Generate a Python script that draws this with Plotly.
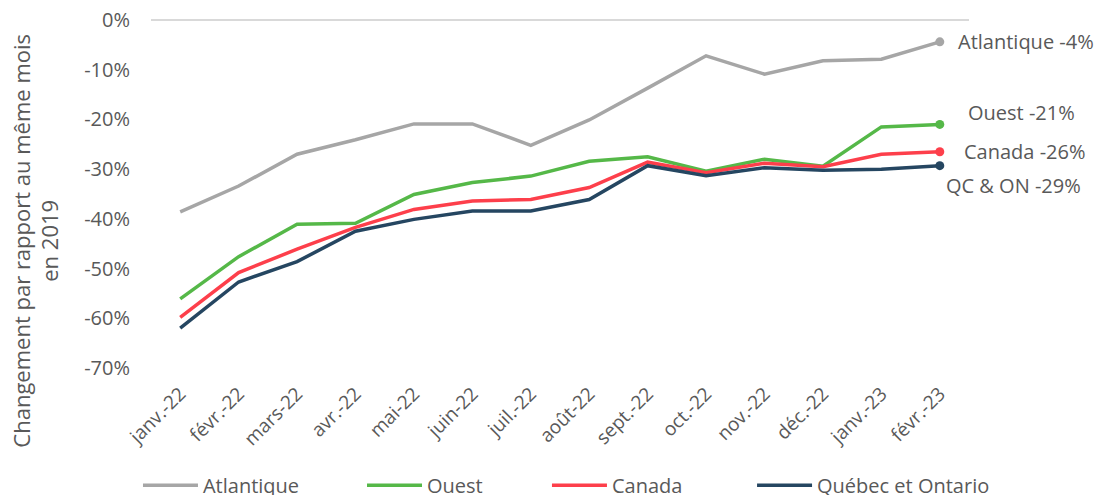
import plotly.graph_objects as go

months = ["janv.-22", "févr.-22", "mars-22", "avr.-22", "mai-22", "juin-22", "juil.-22",
          "août-22", "sept.-22", "oct.-22", "nov.-22", "déc.-22", "janv.-23", "févr.-23"]

atlantique = [-38.6, -33.4, -27.0, -24.1, -20.9, -20.9, -25.2, -20.1, -13.7, -7.2, -10.9, -8.2, -7.9, -4.4]
ouest = [-56.1, -47.6, -41.1, -40.9, -35.1, -32.7, -31.4, -28.4, -27.5, -30.4, -28.0, -29.4, -21.5, -21.0]
canada = [-59.8, -50.8, -46.1, -41.7, -38.1, -36.4, -36.1, -33.7, -28.6, -30.7, -28.8, -29.5, -27.0, -26.5]
qc_on = [-62.0, -52.7, -48.6, -42.5, -40.1, -38.4, -38.4, -36.1, -29.3, -31.3, -29.7, -30.2, -30.0, -29.3]

y_ticks = [0, -10, -20, -30, -40, -50, -60, -70]
y_tick_labels = ["0%", "-10%", "-20%", "-30%", "-40%", "-50%", "-60%", "-70%"]

series = [
    ("Atlantique", atlantique, "#a6a6a6", "Atlantique -4%", 0),
    ("Ouest", ouest, "#55b848", "Ouest -21%", 12),
    ("Canada", canada, "#fd3f4b", "Canada -26%", 0),
    ("Québec et Ontario", qc_on, "#254661", "QC & ON -29%", -20),
]
label_xshift = [16, 26, 22, 4]
legend_ids = ["legend", "legend2", "legend3", "legend4"]
legend_x = [0.1187, 0.3233, 0.4922, 0.6795]

FONT = "Open Sans"
TXT = "#595959"

fig = go.Figure()
for (name, vals, color, lab, ys), xs, lid in zip(series, label_xshift, legend_ids):
    fig.add_trace(go.Scatter(
        x=months, y=vals, name=name, mode="lines",
        line=dict(color=color, width=3.5),
        legend=lid,
    ))
    fig.add_trace(go.Scatter(
        x=months[-1:], y=vals[-1:], mode="markers", showlegend=False,
        marker=dict(size=9, color=color), hoverinfo="skip",
    ))
    fig.add_annotation(
        x=months[-1], y=vals[-1], text=lab, showarrow=False,
        xanchor="left", yanchor="middle", xshift=xs, yshift=ys,
        font=dict(family=FONT, size=20, color=TXT),
    )

fig.add_annotation(
    xref="paper", yref="paper", x=-0.141, y=0.365,
    text="Changement par rapport au même mois<br>en 2019",
    textangle=-90, showarrow=False, xanchor="center", yanchor="middle",
    font=dict(family=FONT, size=22, color=TXT),
)

legend_common = dict(orientation="h", xanchor="left", xref="container",
                     yref="container", y=0.02, yanchor="middle",
                     font=dict(family=FONT, size=20, color=TXT),
                     itemwidth=55, bgcolor="rgba(0,0,0,0)")
legends = {lid: dict(legend_common, x=lx) for lid, lx in zip(legend_ids, legend_x)}

fig.update_layout(
    width=1095, height=487,
    margin=dict(l=143, r=134, t=12, b=127, autoexpand=False),
    paper_bgcolor="white", plot_bgcolor="white",
    font=dict(family=FONT, color=TXT, size=17),
    showlegend=True,
    xaxis=dict(type="category", categoryorder="array", categoryarray=months,
               range=[-0.5, 13.5], showgrid=False, zeroline=False, showline=False,
               automargin=False, ticklabelstandoff=10, ticklabeloverflow="allow",
               tickangle=-45, tickfont=dict(family=FONT, size=19, color=TXT), ticks=""),
    yaxis=dict(range=[-70, 0], tickvals=y_ticks, ticktext=y_tick_labels,
               showgrid=False, zeroline=True, zerolinecolor="#d9d9d9", zerolinewidth=1.5,
               showline=False, ticks="", ticklabelstandoff=20, automargin=False,
               ticklabeloverflow="allow",
               tickfont=dict(family=FONT, size=20, color=TXT)),
    **legends,
)

fig.write_html("out.html")
